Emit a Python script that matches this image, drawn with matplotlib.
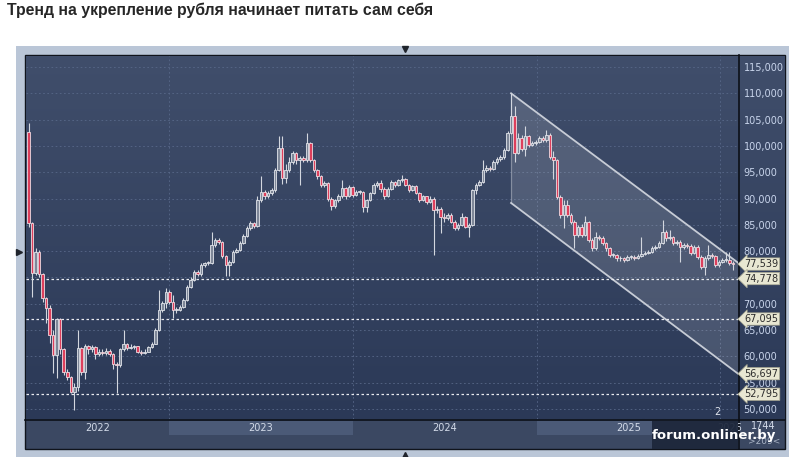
import numpy as np
import pandas as pd
import matplotlib
matplotlib.use('Agg')
import matplotlib.pyplot as plt
import matplotlib.dates as mdates
import matplotlib.transforms as mtransforms
from matplotlib.patches import Rectangle, Polygon
from matplotlib.colors import to_rgb

title = 'Тренд на укрепление рубля начинает питать сам себя'

# weekly candles, thousands (open of each week = previous close)
first_open = 102.7
closes = [85.3, 75.8, 79.9, 75.6, 71.0, 69.1, 64.1, 60.3, 67.0, 61.3,
          57.1, 56.0, 53.3, 54.2, 61.5, 57.1, 62.0, 61.3, 61.8, 60.4,
          60.8, 60.7, 61.0, 60.5, 58.5, 58.3, 61.3, 62.3, 61.6, 61.8,
          61.9, 60.9, 60.7, 60.9, 61.7, 62.4, 65.0, 68.8, 70.1, 72.3,
          70.4, 68.8, 68.9, 69.4, 70.7, 73.2, 74.5, 76.1, 75.6, 77.4,
          77.7, 77.8, 81.2, 82.1, 81.8, 79.0, 77.4, 78.0, 79.9, 80.2,
          81.5, 82.8, 84.3, 85.3, 84.8, 89.7, 91.3, 90.4, 91.0, 91.6,
          95.4, 99.6, 93.9, 95.5, 97.0, 98.6, 97.3, 97.7, 97.3, 100.5,
          97.3, 95.4, 94.2, 92.6, 92.9, 90.0, 88.5, 89.7, 90.4, 92.0,
          90.4, 92.2, 90.6, 91.2, 91.3, 88.3, 89.7, 91.0, 92.6, 92.9,
          91.9, 90.4, 91.9, 93.2, 92.6, 93.5, 93.8, 92.6, 91.6, 92.3,
          91.0, 89.7, 90.4, 89.4, 90.0, 87.8, 88.1, 86.5, 86.2, 86.9,
          85.6, 84.3, 85.0, 86.5, 84.6, 85.0, 91.6, 92.6, 93.2, 95.4,
          95.8, 95.6, 96.9, 97.5, 97.8, 99.2, 102.4, 105.6, 98.6, 101.5,
          99.5, 101.8, 100.2, 100.5, 100.8, 101.5, 101.1, 102.1, 97.9, 97.4,
          90.3, 86.9, 88.8, 86.9, 85.6, 83.1, 84.6, 83.0, 85.5, 82.1,
          80.5, 82.7, 82.5, 81.5, 80.5, 79.3, 79.3, 78.6, 78.6, 78.4,
          78.9, 78.9, 78.7, 79.0, 79.5, 79.6, 79.9, 80.5, 80.8, 81.5,
          83.7, 82.4, 82.6, 81.5, 81.8, 80.8, 81.2, 81.0, 79.6, 80.8,
          78.9, 77.0, 78.6, 79.2, 79.0, 77.3, 78.0, 78.3, 78.4, 77.7,
          77.539]
highs = [104.3, 85.5, 80.6, 80.3, 75.8, 71.2, 69.8, 65.0, 67.2, 67.2,
         61.5, 57.5, 56.3, 55.0, 65.0, 61.8, 62.4, 62.2, 62.2, 61.9,
         61.4, 61.3, 61.6, 61.3, 60.7, 59.0, 61.6, 65.0, 62.5, 62.3,
         62.2, 62.0, 61.2, 61.3, 62.0, 62.8, 65.4, 72.6, 70.6, 72.9,
         72.6, 71.7, 69.3, 69.8, 71.0, 73.5, 75.0, 76.5, 76.4, 77.8,
         78.0, 78.2, 83.7, 82.5, 82.4, 82.0, 79.3, 78.4, 80.3, 80.6,
         81.9, 83.2, 84.7, 85.8, 85.6, 90.4, 94.2, 91.6, 91.4, 92.0,
         95.8, 101.8, 101.8, 96.5, 97.8, 99.0, 98.8, 98.1, 98.0, 102.4,
         100.8, 97.5, 95.6, 94.4, 93.3, 93.1, 90.2, 90.0, 90.8, 93.5,
         92.2, 92.6, 92.4, 91.6, 91.7, 91.5, 90.0, 91.3, 92.9, 93.3,
         93.5, 92.2, 92.2, 93.5, 93.3, 93.8, 94.5, 93.9, 92.8, 92.6,
         92.5, 91.2, 90.6, 90.5, 90.4, 90.3, 88.6, 88.3, 87.3, 87.3,
         87.2, 86.0, 85.4, 87.2, 86.6, 85.4, 91.9, 93.0, 93.6, 97.3,
         96.3, 96.2, 97.3, 97.9, 98.3, 99.6, 102.8, 110.0, 107.5, 102.4,
         102.0, 103.7, 102.0, 100.9, 101.2, 101.9, 101.8, 103.0, 102.4, 99.1,
         97.6, 90.6, 89.7, 89.7, 87.3, 85.9, 85.0, 85.2, 86.7, 85.7,
         82.4, 83.7, 83.0, 82.8, 81.8, 80.8, 79.7, 79.5, 79.0, 78.9,
         79.3, 79.3, 79.2, 79.4, 82.7, 80.0, 80.3, 80.9, 81.2, 81.9,
         85.9, 84.1, 84.0, 82.9, 82.2, 82.1, 81.6, 81.6, 81.3, 81.2,
         81.1, 79.2, 79.0, 81.2, 79.6, 79.3, 78.4, 78.7, 79.9, 79.9,
         78.2]
lows = [84.5, 71.3, 75.5, 75.0, 70.4, 66.3, 62.5, 56.8, 55.9, 60.5,
        56.5, 55.5, 53.0, 49.8, 53.5, 56.5, 55.7, 60.5, 60.8, 59.5,
        60.0, 60.2, 60.3, 60.0, 57.5, 53.0, 58.0, 61.0, 61.2, 61.3,
        61.3, 60.6, 60.3, 60.5, 60.8, 61.5, 62.3, 64.8, 68.5, 69.1,
        70.0, 67.2, 68.3, 68.6, 69.2, 70.5, 73.0, 74.3, 75.2, 75.3,
        77.0, 77.3, 77.6, 80.8, 81.3, 78.6, 75.2, 75.2, 77.7, 79.6,
        80.0, 81.3, 82.6, 84.0, 84.4, 84.5, 89.4, 90.0, 90.1, 90.7,
        91.3, 95.2, 92.8, 93.0, 95.0, 96.5, 96.5, 92.6, 96.9, 97.0,
        96.9, 95.0, 93.8, 92.2, 92.2, 89.6, 87.8, 88.2, 89.4, 90.1,
        90.0, 90.2, 90.3, 90.4, 90.8, 87.5, 87.5, 89.5, 90.8, 92.2,
        91.3, 90.0, 90.2, 91.7, 92.2, 92.4, 93.2, 92.3, 91.3, 91.4,
        90.8, 89.4, 89.5, 89.0, 89.2, 79.3, 87.3, 83.4, 85.5, 86.0,
        85.3, 84.0, 84.0, 84.8, 84.3, 82.7, 84.8, 90.8, 92.3, 93.0,
        95.0, 95.2, 95.4, 96.6, 97.2, 97.5, 99.0, 102.2, 97.0, 98.4,
        99.1, 98.0, 99.8, 99.9, 100.2, 100.5, 100.7, 100.8, 97.5, 93.8,
        89.9, 86.3, 84.3, 86.5, 85.2, 80.5, 82.7, 82.6, 82.8, 81.7,
        80.1, 80.2, 82.1, 81.1, 80.1, 78.9, 78.9, 78.2, 78.2, 78.0,
        78.2, 78.5, 78.3, 78.5, 78.8, 79.2, 79.4, 79.7, 80.3, 80.6,
        81.3, 82.0, 82.1, 81.1, 81.2, 78.0, 80.4, 80.6, 79.2, 79.4,
        78.5, 76.6, 75.5, 78.3, 78.6, 76.9, 77.0, 77.8, 78.0, 77.3,
        76.5]
first_week = '2022-03-28'

years = ['2022', '2023', '2024', '2025', '2026']
mark_values = [77.539, 74.778, 67.095, 56.697, 52.795]
dashed_levels = [74.778, 67.095, 52.795]

# channel: starts at the peak week, runs to the right edge
chan_start = '2024-11-11'
chan_end = '2026-02-05'
chan_upper = [110.0, 77.8]
chan_lower = [89.15, 56.697]

W, H = 789, 457
fig = plt.figure(figsize=(W / 100, H / 100), dpi=100)
fig.patch.set_facecolor('white')

# background in pixel coordinates
bg = fig.add_axes([0, 0, 1, 1])
bg.set_xlim(0, W)
bg.set_ylim(H, 0)
bg.axis('off')

bg.add_patch(Rectangle((16, 46), W - 16, H - 46, fc='#bac6d7', ec='none'))
bg.add_patch(Rectangle((25, 55), 760, 394, fc='#3b4862', ec='#10141c', lw=1))
top_c = np.array(to_rgb('#404e6b'))
bot_c = np.array(to_rgb('#2b3957'))
t = np.linspace(0, 1, 200)[:, None, None]
grad = top_c * (1 - t) + bot_c * t
bg.imshow(grad, extent=[26, 785, 419, 56], origin='upper', aspect='auto', zorder=1)
bg.plot([25, 785], [419.5, 419.5], color='#0c1018', lw=1.2, zorder=2)
bg.plot([739, 739], [55, 449], color='#0c1018', lw=1.2, zorder=2)
bg.plot(405, 49, marker='v', color='#20242c', ms=5)
bg.plot(405, 455, marker='^', color='#20242c', ms=5)
bg.plot(19, 252, marker='>', color='#20242c', ms=5)

fig.text(7 / W, 1 - 10 / H, title, fontsize=11.4, fontweight='bold',
         family='Liberation Sans', color='#262626', va='center', ha='left')

# main price axes
ax = fig.add_axes([26 / W, 1 - 419 / H, (738 - 26) / W, (419 - 56) / H])
ax.set_facecolor('none')
for s in ax.spines.values():
    s.set_visible(False)

dates = mdates.date2num(pd.date_range(first_week, periods=len(closes), freq='7D').to_pydatetime())
c = np.array(closes)
o = np.array([first_open] + closes[:-1])
hi = np.array(highs)
lo = np.array(lows)
up = c >= o

ax.vlines(dates, lo, hi, color='#d3d7df', lw=0.8, zorder=4)
body = np.maximum(np.abs(c - o), 0.15)
ax.bar(dates[up], body[up], bottom=np.minimum(o, c)[up], width=5,
       color='#7e8798', edgecolor='#e3e6ec', lw=0.6, zorder=5)
ax.bar(dates[~up], body[~up], bottom=np.minimum(o, c)[~up], width=5,
       color='#dd3f5c', edgecolor='#f1dbe1', lw=0.6, zorder=5)

# channel
cx = mdates.date2num(pd.to_datetime([chan_start, chan_end]).to_pydatetime())
ax.add_patch(Polygon([(cx[0], chan_upper[0]), (cx[1], chan_upper[1]),
                      (cx[1], chan_lower[1]), (cx[0], chan_lower[0])],
                     closed=True, fc=(1, 1, 1, 0.13), ec='none', zorder=2))
ax.plot(cx, chan_upper, color='#c7ccd6', lw=1.3, zorder=3)
ax.plot(cx, chan_lower, color='#c7ccd6', lw=1.3, zorder=3)
ax.plot([cx[0], cx[0]], [chan_lower[0], chan_upper[0]], color='#c7ccd6', lw=0.9, alpha=0.45, zorder=3)

for v in dashed_levels:
    ax.axhline(v, color='#e9ebf0', lw=0.9, ls=(0, (2, 2)), zorder=3)

x0 = mdates.date2num(pd.Timestamp('2022-03-23').to_pydatetime())
x1 = cx[1]
ax.set_xlim(x0, x1)
ax.set_ylim(48.085, 117.09)

# grid
year_starts = mdates.date2num(pd.to_datetime(['2023-01-01', '2024-01-01', '2025-01-01', '2026-01-01']).to_pydatetime())
ax.set_xticks(year_starts)
ax.set_xticklabels([])
ax.tick_params(axis='x', length=0)
yt = np.arange(50, 116, 5)
ax.set_yticks(yt)
ax.set_yticklabels(['{:,}'.format(int(v * 1000)) for v in yt])
ax.yaxis.tick_right()
ax.tick_params(axis='y', length=0, pad=4, labelsize=7, labelcolor='#c9d5ec')
ax.grid(True, color='#586889', lw=0.6, ls=(0, (2, 3)), zorder=1)
ax.set_axisbelow(True)

# year band under the plot
bt = mtransforms.blended_transform_factory(ax.transData, ax.transAxes)
edges = [x0] + list(year_starts) + [x1]
bh = 1.0 / 363
for k, name in enumerate(years):
    a, b = edges[k], edges[k + 1]
    if k % 2 == 1:
        ax.add_patch(Rectangle((a, -16 * bh), b - a, 14 * bh, transform=bt,
                               fc='#4b5a77', ec='none', clip_on=False, zorder=1))
    ax.text((a + b) / 2, -9 * bh, name, transform=bt, ha='center', va='center',
            fontsize=7, color='#d3dbe9', clip_on=False)

# price labels on the right
yt_tr = mtransforms.blended_transform_factory(ax.transAxes, ax.transData)
for v in mark_values:
    ax.text(1.009, v, '{:,}'.format(int(round(v * 1000))), transform=yt_tr,
            ha='left', va='center', fontsize=7, color='#2c2c2c', zorder=10,
            bbox=dict(boxstyle='larrow,pad=0.12', fc='#e8e7d2', ec='#a9a892', lw=0.5))

# bottom right bits
bg.text(717, 412, '2', fontsize=7, color='#e4e8f0', ha='center', va='center', zorder=5)
bg.text(763, 426, '1744', fontsize=7, color='#d3dbe9', ha='center', va='center', zorder=5)
bg.text(764, 441, '>209<', fontsize=6.5, color='#aab4c6', ha='center', va='center', zorder=5)

# watermark on top of everything
fig.patches.append(Rectangle((652 / W, 1 - 449 / H), 86 / W, 28 / H, transform=fig.transFigure,
                             fc='#1d273b', ec='none', alpha=0.93, zorder=20))
fig.text(714 / W, 1 - 435 / H, 'forum.onliner.by', fontsize=9.5, fontweight='bold',
         color='white', ha='center', va='center', zorder=21)

fig.savefig('out.png', dpi=100)
